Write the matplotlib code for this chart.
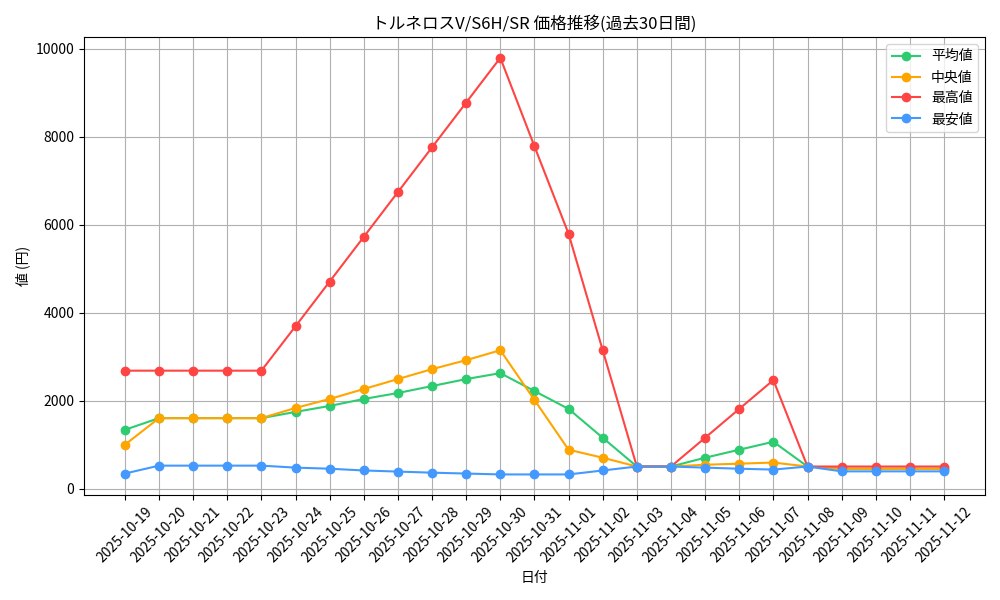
import matplotlib
matplotlib.use("Agg")
import matplotlib.pyplot as plt

plt.rcParams['font.family'] = ['Noto Sans CJK JP', 'DejaVu Sans']

dates = ["2025-10-19", "2025-10-20", "2025-10-21", "2025-10-22", "2025-10-23",
         "2025-10-24", "2025-10-25", "2025-10-26", "2025-10-27", "2025-10-28",
         "2025-10-29", "2025-10-30", "2025-10-31", "2025-11-01", "2025-11-02",
         "2025-11-03", "2025-11-04", "2025-11-05", "2025-11-06", "2025-11-07",
         "2025-11-08", "2025-11-09", "2025-11-10", "2025-11-11", "2025-11-12"]
avg_price = [1335, 1600, 1600, 1600, 1600, 1742, 1878, 2036, 2172, 2330, 2489, 2624,
             2217, 1810, 1154, 500, 500, 700, 882, 1063, 500, 450, 450, 450, 450]
median_price = [995, 1600, 1600, 1600, 1600, 1832, 2036, 2262, 2489, 2715, 2919, 3145,
                2014, 882, 700, 500, 500, 540, 565, 590, 500, 450, 450, 450, 450]
max_price = [2680, 2680, 2680, 2680, 2680, 3690, 4706, 5724, 6742, 7760, 8778, 9796,
             7783, 5792, 3145, 500, 500, 1154, 1810, 2466, 500, 500, 500, 500, 500]
min_price = [340, 520, 520, 520, 520, 475, 450, 410, 385, 360, 340, 320,
             320, 320, 410, 500, 500, 475, 450, 430, 500, 390, 390, 390, 390]

fig, ax = plt.subplots(figsize=(10, 6), dpi=100)
ax.plot(dates, avg_price, marker="o", color="#2ecc71", label="平均値")
ax.plot(dates, median_price, marker="o", color="#ffa500", label="中央値")
ax.plot(dates, max_price, marker="o", color="#ff4444", label="最高値")
ax.plot(dates, min_price, marker="o", color="#4499ff", label="最安値")

ax.set_title("トルネロスV/S6H/SR 価格推移(過去30日間)")
ax.set_xlabel("日付")
ax.set_ylabel("値 (円)")
ax.grid(True)
ax.legend(loc="upper right")
plt.xticks(rotation=45)
fig.tight_layout()
fig.savefig("out.png")
